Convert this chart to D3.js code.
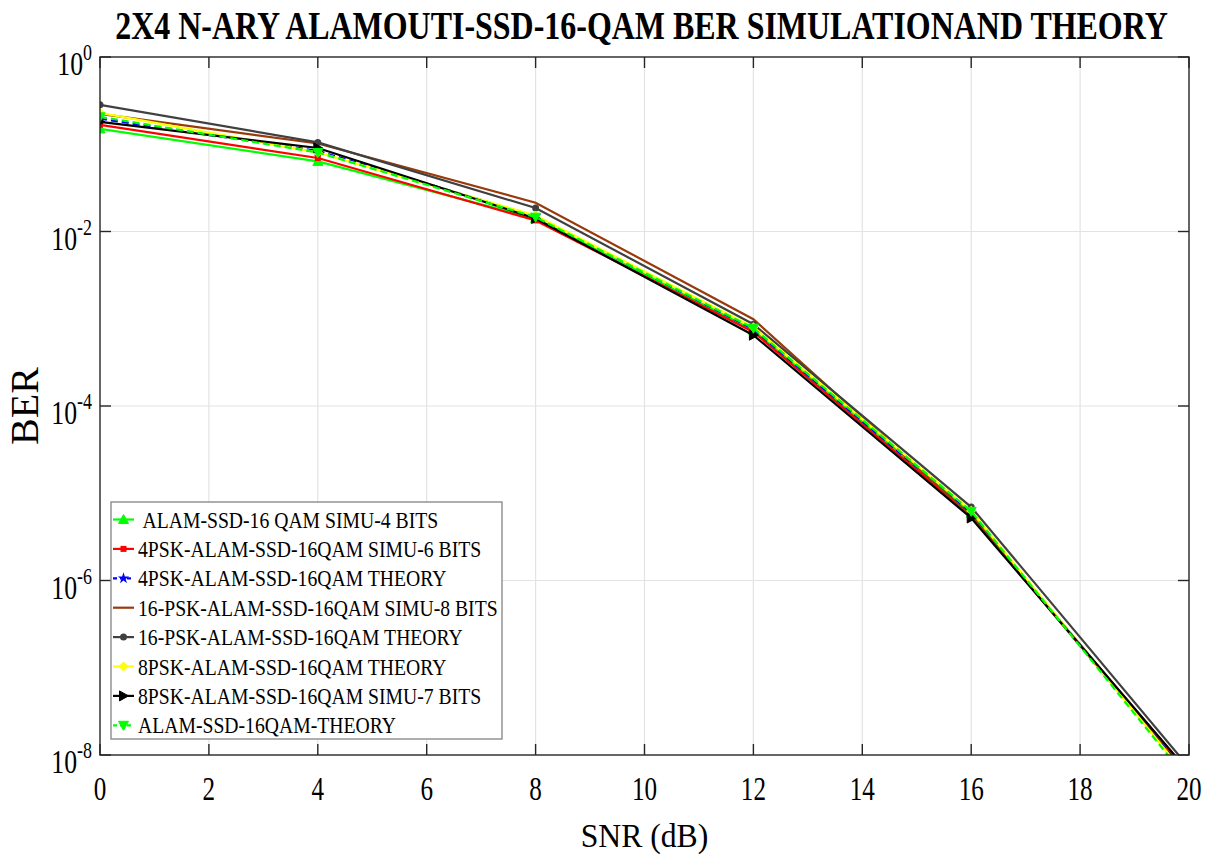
<!DOCTYPE html>
<html>
<head>
<style>
  body { margin: 0; background: white; }
  text { font-family: "Liberation Serif", "DejaVu Serif", serif; fill: #000; }
</style>
</head>
<body>
<svg width="1213" height="855"></svg>
<script src="https://d3js.org/d3.v7.min.js"></script>
<script>

// data
const snr = [0, 4, 8, 12, 16, 20];
const seriesNames = [
  "ALAM-SSD-16 QAM SIMU-4 BITS",
  "4PSK-ALAM-SSD-16QAM SIMU-6 BITS",
  "4PSK-ALAM-SSD-16QAM THEORY",
  "16-PSK-ALAM-SSD-16QAM SIMU-8 BITS",
  "16-PSK-ALAM-SSD-16QAM THEORY",
  "8PSK-ALAM-SSD-16QAM THEORY",
  "8PSK-ALAM-SSD-16QAM SIMU-7 BITS",
  "ALAM-SSD-16QAM-THEORY"
];
const berSimu4   = [0.150, 0.0636, 0.0141, 7.4e-4, 5.9e-6, 5.6e-9];
const berSimu6   = [0.167, 0.0695, 0.0134, 7.06e-4, 5.5e-6, 5.8e-9];
const ber4pskTh  = [0.196, 0.084, 0.0149, 7.6e-4, 5.9e-6, 5.6e-9];
const berSimu8   = [0.223, 0.102, 0.0214, 9.87e-4, 5.5e-6, 6.2e-9];
const ber16pskTh = [0.283, 0.105, 0.0186, 8.65e-4, 6.95e-6, 7.2e-9];
const ber8pskTh  = [0.229, 0.0806, 0.0152, 8.0e-4, 6.3e-6, 5.3e-9];
const berSimu7   = [0.181, 0.0905, 0.0141, 6.48e-4, 5.2e-6, 6.4e-9];
const berAlamTh  = [0.206, 0.0806, 0.0146, 7.79e-4, 6.2e-6, 5.0e-9];
const xTicks = [0, 2, 4, 6, 8, 10, 12, 14, 16, 18, 20];
const yTickExp = [0, -2, -4, -6, -8];

const allBer = [berSimu4, berSimu6, ber4pskTh, berSimu8, ber16pskTh, ber8pskTh, berSimu7, berAlamTh];
const colors = ["#00ff00", "#ff0000", "#0000ff", "#9a3a0a", "#404040", "#ffff00", "#000000", "#00ff00"];
const dashes = [null, null, "7,4", null, null, null, null, "7,4"];
const markers = ["triUp", "square", "star", "none", "circle", "diamond", "triRight", "triDown"];

const pLeft = 100, pRight = 1189, pTop = 57, pBottom = 755;
const svg = d3.select("svg");

const x = d3.scaleLinear().domain([0, 20]).range([pLeft, pRight]);
const y = d3.scaleLog().domain([1e-8, 1]).range([pBottom, pTop]);

// grid
svg.append("g").selectAll("line").data(xTicks.slice(1, -1)).join("line")
  .attr("x1", d => x(d)).attr("x2", d => x(d))
  .attr("y1", pTop).attr("y2", pBottom)
  .attr("stroke", "#e3e3e3").attr("stroke-width", 1.2);
svg.append("g").selectAll("line").data(yTickExp.slice(1, -1)).join("line")
  .attr("x1", pLeft).attr("x2", pRight)
  .attr("y1", d => y(Math.pow(10, d))).attr("y2", d => y(Math.pow(10, d)))
  .attr("stroke", "#e3e3e3").attr("stroke-width", 1.2);

svg.append("clipPath").attr("id", "clip")
  .append("rect").attr("x", pLeft).attr("y", pTop)
  .attr("width", pRight - pLeft).attr("height", pBottom - pTop);

function drawMarker(g, type, cx, cy, color) {
  const s = 5;
  if (type === "none") return;
  if (type === "triUp") {
    g.append("path").attr("d", `M${cx},${cy - s}L${cx + s},${cy + s * 0.8}L${cx - s},${cy + s * 0.8}Z`)
      .attr("fill", color).attr("stroke", color).attr("stroke-width", 1);
  } else if (type === "triDown") {
    g.append("path").attr("d", `M${cx},${cy + s}L${cx + s},${cy - s * 0.8}L${cx - s},${cy - s * 0.8}Z`)
      .attr("fill", color).attr("stroke", color).attr("stroke-width", 1);
  } else if (type === "triRight") {
    g.append("path").attr("d", `M${cx + s},${cy}L${cx - s * 0.8},${cy - s}L${cx - s * 0.8},${cy + s}Z`)
      .attr("fill", color).attr("stroke", color).attr("stroke-width", 1);
  } else if (type === "square") {
    g.append("rect").attr("x", cx - 3).attr("y", cy - 3).attr("width", 6).attr("height", 6)
      .attr("fill", color);
  } else if (type === "circle") {
    g.append("circle").attr("cx", cx).attr("cy", cy).attr("r", 3.5).attr("fill", color);
  } else if (type === "diamond") {
    g.append("path").attr("d", `M${cx},${cy - s}L${cx + s},${cy}L${cx},${cy + s}L${cx - s},${cy}Z`)
      .attr("fill", color);
  } else if (type === "star") {
    g.append("path").attr("d", d3.symbol(d3.symbolStar, 40)())
      .attr("transform", `translate(${cx},${cy})`).attr("fill", color);
  }
}

// series
const line = d3.line().x((d, i) => x(snr[i])).y(d => y(d));
const plot = svg.append("g").attr("clip-path", "url(#clip)");
allBer.forEach((vals, k) => {
  plot.append("path")
    .datum(vals)
    .attr("d", line)
    .attr("fill", "none")
    .attr("stroke", colors[k])
    .attr("stroke-width", 2.2)
    .attr("stroke-dasharray", dashes[k]);
  vals.forEach((v, i) => drawMarker(plot, markers[k], x(snr[i]), y(v), colors[k]));
});

// frame + ticks
svg.append("rect").attr("x", pLeft).attr("y", pTop)
  .attr("width", pRight - pLeft).attr("height", pBottom - pTop)
  .attr("fill", "none").attr("stroke", "#262626").attr("stroke-width", 1.4);
const tl = 11;
xTicks.forEach(t => {
  svg.append("line").attr("x1", x(t)).attr("x2", x(t)).attr("y1", pBottom).attr("y2", pBottom - tl)
    .attr("stroke", "#262626").attr("stroke-width", 1.4);
  svg.append("line").attr("x1", x(t)).attr("x2", x(t)).attr("y1", pTop).attr("y2", pTop + tl)
    .attr("stroke", "#262626").attr("stroke-width", 1.4);
  svg.append("text")
    .attr("transform", `translate(${x(t)},800) scale(0.74,1)`)
    .attr("text-anchor", "middle")
    .style("font-size", "34px")
    .text(t);
});
yTickExp.forEach(e => {
  const yy = y(Math.pow(10, e));
  svg.append("line").attr("x1", pLeft).attr("x2", pLeft + tl).attr("y1", yy).attr("y2", yy)
    .attr("stroke", "#262626").attr("stroke-width", 1.4);
  svg.append("line").attr("x1", pRight).attr("x2", pRight - tl).attr("y1", yy).attr("y2", yy)
    .attr("stroke", "#262626").attr("stroke-width", 1.4);
  const lab = svg.append("text")
    .attr("transform", `translate(92,${yy + 18}) scale(0.78,1)`)
    .attr("text-anchor", "end")
    .style("font-size", "33px");
  lab.append("tspan").text("10");
  lab.append("tspan").attr("dy", -15).style("font-size", "23px").text(e === 0 ? "0" : "-" + (-e));
});

// axis titles
svg.append("text")
  .attr("transform", `translate(${(pLeft + pRight) / 2},${847}) scale(0.96,1)`)
  .attr("text-anchor", "middle")
  .style("font-size", "33px")
  .text("SNR (dB)");
svg.append("text")
  .attr("transform", `translate(38,${(pTop + pBottom) / 2}) rotate(-90)`)
  .attr("text-anchor", "middle")
  .style("font-size", "40px")
  .text("BER");

// title, squeezed to the width it has in the picture
const title = svg.append("text")
  .attr("text-anchor", "middle")
  .style("font-size", "40px")
  .style("font-weight", "bold")
  .text("2X4 N-ARY ALAMOUTI-SSD-16-QAM BER SIMULATIONAND THEORY");
const tw = title.node().getComputedTextLength();
title.attr("transform", `translate(641.5,39) scale(${1053 / tw},1)`);

// legend
const lg = svg.append("g");
lg.append("rect").attr("x", 111).attr("y", 502).attr("width", 391).attr("height", 237)
  .attr("fill", "white").attr("stroke", "#8c8c8c").attr("stroke-width", 1.4);
seriesNames.forEach((name, k) => {
  const cy = 519.5 + k * 29.4;
  lg.append("line").attr("x1", 113).attr("x2", 134).attr("y1", cy).attr("y2", cy)
    .attr("stroke", colors[k]).attr("stroke-width", 2.2)
    .attr("stroke-dasharray", dashes[k] ? "4,3" : null);
  drawMarker(lg, markers[k], 123.5, cy, colors[k]);
  lg.append("text")
    .attr("transform", `translate(${k === 0 ? 142.5 : 138},${cy + 8}) scale(0.82,1)`)
    .style("font-size", "24px")
    .text(name);
});

</script>
</body>
</html>
